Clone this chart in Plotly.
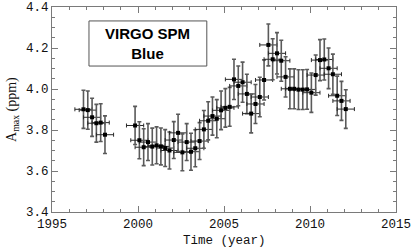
import plotly.graph_objects as go

# Group 1 (early data)
years_a = [1996.83, 1997.08, 1997.33, 1997.58, 1997.83, 1998.08]
amax_a = [3.901, 3.897, 3.862, 3.833, 3.836, 3.777]
err_a = [0.093, 0.093, 0.093, 0.092, 0.092, 0.092]

# Group 2 (1999.83 onwards)
years_b = [1999.83, 2000.08, 2000.33, 2000.58, 2000.83, 2001.08, 2001.33, 2001.58,
           2001.83, 2002.08, 2002.33, 2002.58, 2002.83, 2003.08, 2003.33, 2003.58,
           2003.83, 2004.08, 2004.33, 2004.58, 2004.83, 2005.08, 2005.33, 2005.58,
           2005.83, 2006.08, 2006.33, 2006.58, 2006.83, 2007.08, 2007.33, 2007.58,
           2007.83, 2008.08, 2008.33, 2008.58, 2008.83, 2009.08, 2009.33, 2009.58,
           2009.83, 2010.08, 2010.33, 2010.58, 2010.83, 2011.08, 2011.33, 2011.58,
           2011.83, 2012.08]
amax_b = [3.822, 3.750, 3.716, 3.741, 3.719, 3.725, 3.720, 3.712,
          3.700, 3.751, 3.786, 3.691, 3.741, 3.694, 3.711, 3.746,
          3.803, 3.845, 3.868, 3.855, 3.896, 3.908, 3.913, 4.047,
          4.015, 4.033, 3.976, 3.880, 3.927, 3.961, 4.044, 4.215,
          4.145, 4.174, 4.138, 4.059, 4.001, 4.001, 3.997, 3.997,
          3.998, 3.982, 4.068, 4.141, 4.144, 4.101, 4.072, 3.967,
          3.942, 3.902]
err_b = [0.093, 0.090, 0.090, 0.090, 0.090, 0.090, 0.090, 0.090,
         0.090, 0.090, 0.091, 0.090, 0.090, 0.090, 0.090, 0.090,
         0.092, 0.093, 0.093, 0.093, 0.094, 0.094, 0.095, 0.098,
         0.097, 0.098, 0.096, 0.094, 0.095, 0.096, 0.098, 0.102,
         0.100, 0.101, 0.100, 0.098, 0.097, 0.097, 0.097, 0.097,
         0.097, 0.096, 0.098, 0.100, 0.100, 0.099, 0.098, 0.096,
         0.095, 0.094]

x_ticks = [1995, 2000, 2005, 2010, 2015]
y_ticks = [3.4, 3.6, 3.8, 4.0, 4.2, 4.4]
y_ticktext = ["3.4", "3.6", "3.8", "4.0", "4.2", "4.4"]

years = years_a + years_b
amax = amax_a + amax_b
yerr = err_a + err_b
xerr_half = 0.5

FRAME = "#7a7a7a"
TICKFONT = dict(family="Liberation Mono", size=12.5, color="#111")

fig = go.Figure()
fig.add_trace(go.Scatter(
    x=years, y=amax, mode="markers",
    marker=dict(symbol="square", size=4, color="black"),
    error_y=dict(type="data", array=yerr, visible=True, color="#5a5a5a", thickness=1.6, width=2),
    error_x=dict(type="constant", value=xerr_half, visible=True, color="#2a2a2a", thickness=1, width=2),
    showlegend=False,
))
# invisible companion trace so the mirrored top/right axes (with minor ticks) are drawn
fig.add_trace(go.Scatter(
    x=years, y=amax, xaxis="x2", yaxis="y2", mode="markers",
    marker=dict(size=1, opacity=0), hoverinfo="skip", showlegend=False,
))

fig.add_shape(type="rect", xref="x", yref="y", x0=1997.15, x1=2004.0, y0=4.112, y1=4.332,
              line=dict(color="#555", width=1), fillcolor="white")
fig.add_annotation(xref="x", yref="y", x=2000.58, y=4.222, showarrow=False,
                   text="<b>VIRGO SPM</b><br><b>Blue</b>",
                   font=dict(family="Liberation Sans", size=15, color="black"), align="center")

# axis titles
fig.add_annotation(xref="paper", yref="paper", x=0.5, y=-0.14, yanchor="middle", showarrow=False,
                   text="Time (year)", font=dict(family="Liberation Mono", size=12.5, color="#111"))
fig.add_annotation(xref="paper", yref="paper", x=-0.115, y=0.5, xanchor="center", showarrow=False,
                   textangle=-90, text="A<sub>max</sub> (ppm)",
                   font=dict(family="Liberation Serif", size=14, color="#111"))

common = dict(ticks="inside", ticklen=6, tickcolor=FRAME, tickwidth=1,
              showline=True, linecolor=FRAME, linewidth=1,
              showgrid=False, zeroline=False, automargin=False)

fig.update_layout(
    width=414, height=247,
    margin=dict(l=52, r=18, t=7, b=35),
    paper_bgcolor="white", plot_bgcolor="white",
    xaxis=dict(range=[1995, 2015], tickvals=x_ticks, tickfont=TICKFONT,
               ticklabeloverflow="allow",
               minor=dict(dtick=1, ticks="inside", ticklen=3, tickcolor=FRAME), **common),
    yaxis=dict(range=[3.4, 4.4], tickvals=y_ticks, ticktext=y_ticktext, tickfont=TICKFONT,
               minor=dict(dtick=0.05, ticks="inside", ticklen=3, tickcolor=FRAME), **common),
    xaxis2=dict(range=[1995, 2015], overlaying="x", side="top", tickvals=x_ticks, showticklabels=False,
                minor=dict(dtick=1, ticks="inside", ticklen=3, tickcolor=FRAME), **common),
    yaxis2=dict(range=[3.4, 4.4], overlaying="y", side="right", tickvals=y_ticks, showticklabels=False,
                minor=dict(dtick=0.05, ticks="inside", ticklen=3, tickcolor=FRAME), **common),
)

fig.write_html("out.html", config={"displayModeBar": False},
               post_script="document.body.style.margin='0';document.body.style.overflow='hidden';")
